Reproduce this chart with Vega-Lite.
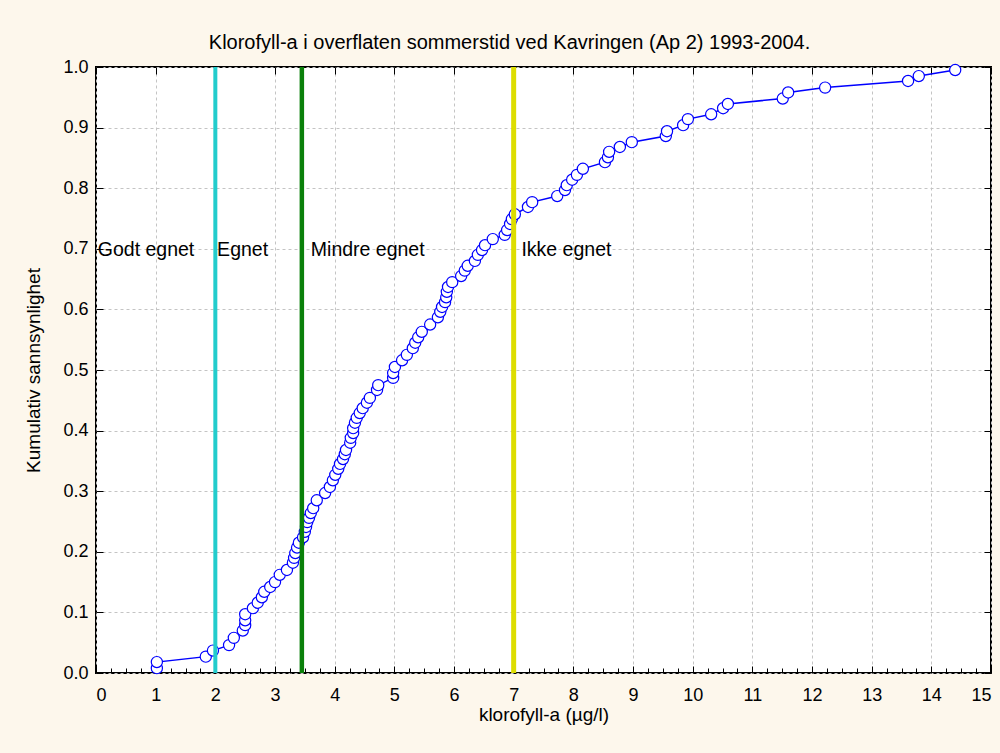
{
  "$schema": "https://vega.github.io/schema/vega-lite/v6.json",
  "autosize": "none",
  "width": 895,
  "height": 606,
  "padding": {"top": 67, "left": 96, "right": 9, "bottom": 80},
  "background": "#FDF7EC",
  "config": {
    "font": "Liberation Sans",
    "view": {"fill": "white", "stroke": "black", "strokeWidth": 2},
    "axis": {"labelFont": "Liberation Sans", "titleFont": "Liberation Sans", "labelFontSize": 18, "titleFontSize": 19, "titleFontWeight": "normal", "labelColor": "black", "titleColor": "black", "domain": false, "tickColor": "black", "gridColor": "#C4C4C4", "gridDash": [3, 3], "gridWidth": 1}
  },
  "title": {"text": "Klorofyll-a i overflaten sommerstid ved Kavringen (Ap 2) 1993-2004.", "font": "Liberation Sans", "fontSize": 20, "fontWeight": "normal", "color": "black", "offset": 5, "anchor": "middle", "dx": -34},
  "datasets": {
    "cdf": [
      {"x": 1.02, "p": 0.008}, {"x": 1.02, "p": 0.018}, {"x": 1.84, "p": 0.027}, {"x": 1.96, "p": 0.037},
      {"x": 2.23, "p": 0.046}, {"x": 2.31, "p": 0.058}, {"x": 2.46, "p": 0.070}, {"x": 2.50, "p": 0.079},
      {"x": 2.50, "p": 0.087}, {"x": 2.50, "p": 0.097}, {"x": 2.63, "p": 0.107}, {"x": 2.71, "p": 0.116},
      {"x": 2.78, "p": 0.125}, {"x": 2.82, "p": 0.134}, {"x": 2.92, "p": 0.142}, {"x": 3.00, "p": 0.150},
      {"x": 3.08, "p": 0.162}, {"x": 3.20, "p": 0.170}, {"x": 3.30, "p": 0.182}, {"x": 3.32, "p": 0.190},
      {"x": 3.34, "p": 0.198}, {"x": 3.37, "p": 0.207}, {"x": 3.40, "p": 0.215}, {"x": 3.47, "p": 0.224},
      {"x": 3.50, "p": 0.233}, {"x": 3.52, "p": 0.241}, {"x": 3.54, "p": 0.249}, {"x": 3.57, "p": 0.256},
      {"x": 3.60, "p": 0.264}, {"x": 3.64, "p": 0.272}, {"x": 3.70, "p": 0.285}, {"x": 3.84, "p": 0.297},
      {"x": 3.92, "p": 0.307}, {"x": 3.97, "p": 0.318}, {"x": 4.01, "p": 0.327}, {"x": 4.06, "p": 0.337},
      {"x": 4.09, "p": 0.345}, {"x": 4.14, "p": 0.353}, {"x": 4.17, "p": 0.361}, {"x": 4.19, "p": 0.368},
      {"x": 4.26, "p": 0.380}, {"x": 4.27, "p": 0.388}, {"x": 4.31, "p": 0.396}, {"x": 4.31, "p": 0.404},
      {"x": 4.34, "p": 0.413}, {"x": 4.37, "p": 0.421}, {"x": 4.42, "p": 0.429}, {"x": 4.47, "p": 0.437},
      {"x": 4.54, "p": 0.446}, {"x": 4.59, "p": 0.454}, {"x": 4.71, "p": 0.467}, {"x": 4.73, "p": 0.475},
      {"x": 4.98, "p": 0.487}, {"x": 4.98, "p": 0.495}, {"x": 5.01, "p": 0.505}, {"x": 5.13, "p": 0.516},
      {"x": 5.21, "p": 0.525}, {"x": 5.31, "p": 0.536}, {"x": 5.35, "p": 0.545}, {"x": 5.40, "p": 0.554},
      {"x": 5.46, "p": 0.563}, {"x": 5.60, "p": 0.575}, {"x": 5.73, "p": 0.587}, {"x": 5.77, "p": 0.596},
      {"x": 5.80, "p": 0.604}, {"x": 5.85, "p": 0.612}, {"x": 5.87, "p": 0.620}, {"x": 5.88, "p": 0.629},
      {"x": 5.90, "p": 0.637}, {"x": 5.97, "p": 0.645}, {"x": 6.12, "p": 0.655}, {"x": 6.18, "p": 0.664},
      {"x": 6.23, "p": 0.672}, {"x": 6.35, "p": 0.680}, {"x": 6.40, "p": 0.690}, {"x": 6.47, "p": 0.698},
      {"x": 6.52, "p": 0.706}, {"x": 6.65, "p": 0.716}, {"x": 6.85, "p": 0.723}, {"x": 6.89, "p": 0.731},
      {"x": 6.94, "p": 0.741}, {"x": 6.97, "p": 0.749}, {"x": 7.02, "p": 0.757}, {"x": 7.24, "p": 0.769},
      {"x": 7.31, "p": 0.777}, {"x": 7.73, "p": 0.787}, {"x": 7.86, "p": 0.797}, {"x": 7.89, "p": 0.805},
      {"x": 7.98, "p": 0.814}, {"x": 8.06, "p": 0.822}, {"x": 8.16, "p": 0.832}, {"x": 8.53, "p": 0.843},
      {"x": 8.58, "p": 0.851}, {"x": 8.60, "p": 0.860}, {"x": 8.78, "p": 0.868}, {"x": 8.98, "p": 0.876},
      {"x": 9.55, "p": 0.886}, {"x": 9.57, "p": 0.894}, {"x": 9.84, "p": 0.904}, {"x": 9.92, "p": 0.914},
      {"x": 10.31, "p": 0.922}, {"x": 10.51, "p": 0.932}, {"x": 10.59, "p": 0.939}, {"x": 11.51, "p": 0.948},
      {"x": 11.60, "p": 0.958}, {"x": 12.22, "p": 0.966}, {"x": 13.61, "p": 0.977}, {"x": 13.79, "p": 0.985},
      {"x": 14.40, "p": 0.995}
    ],
    "limits": [
      {"x": 2.0, "y0": 0, "y1": 1, "klasse": "Egnet"},
      {"x": 3.45, "y0": 0, "y1": 1, "klasse": "Mindre egnet"},
      {"x": 7.0, "y0": 0, "y1": 1, "klasse": "Ikke egnet"}
    ],
    "labels": [
      {"x": 0.03, "y": 0.698, "label": "Godt egnet"},
      {"x": 2.03, "y": 0.698, "label": "Egnet"},
      {"x": 3.6, "y": 0.698, "label": "Mindre egnet"},
      {"x": 7.13, "y": 0.698, "label": "Ikke egnet"}
    ]
  },
  "resolve": {"axis": {"x": "independent", "y": "independent"}},
  "layer": [
    {
      "data": {"name": "cdf"},
      "mark": {"type": "line", "color": "#0000FF", "strokeWidth": 1.5},
      "encoding": {
        "x": {"field": "x", "type": "quantitative", "scale": {"domain": [0, 15], "nice": false, "zero": false}, "title": "klorofyll-a (µg/l)",
          "axis": {"orient": "bottom", "values": [0,1,2,3,4,5,6,7,8,9,10,11,12,13,14,15], "format": "d", "grid": true, "tickSize": -7, "labelPadding": 20, "titlePadding": 1}},
        "y": {"field": "p", "type": "quantitative", "scale": {"domain": [0, 1], "nice": false}, "title": "Kumulativ sannsynlighet",
          "axis": {"orient": "left", "values": [0,0.1,0.2,0.3,0.4,0.5,0.6,0.7,0.8,0.9,1.0], "format": ".1f", "grid": true, "tickSize": -7, "labelPadding": 15, "titlePadding": 19}}
      }
    },
    {
      "data": {"name": "cdf"},
      "mark": {"type": "point", "shape": "circle", "filled": true, "fill": "white", "stroke": "#0000FF", "strokeWidth": 1.2, "size": 125, "opacity": 1},
      "encoding": {
        "x": {"field": "x", "type": "quantitative", "axis": null},
        "y": {"field": "p", "type": "quantitative", "axis": null}
      }
    },
    {
      "data": {"name": "limits"},
      "mark": {"type": "rule"},
      "encoding": {
        "x": {"field": "x", "type": "quantitative", "axis": {"orient": "top", "values": [0,1,2,3,4,5,6,7,8,9,10,11,12,13,14,15], "labels": false, "grid": false, "tickSize": -7, "title": null}},
        "y": {"field": "y0", "type": "quantitative", "axis": {"orient": "right", "values": [0,0.1,0.2,0.3,0.4,0.5,0.6,0.7,0.8,0.9,1.0], "labels": false, "grid": false, "tickSize": -7, "title": null}},
        "y2": {"field": "y1"},
        "color": {"field": "klasse", "type": "nominal", "scale": {"domain": ["Egnet", "Mindre egnet", "Ikke egnet"], "range": ["#22CCCC", "#0A800A", "#DDDD00"]}, "legend": null},
        "strokeWidth": {"field": "klasse", "type": "nominal", "scale": {"domain": ["Egnet", "Mindre egnet", "Ikke egnet"], "range": [4, 5, 4]}, "legend": null}
      }
    },
    {
      "data": {"name": "labels"},
      "mark": {"type": "text", "align": "left", "baseline": "middle", "fontSize": 19.5, "font": "Liberation Sans", "color": "black"},
      "encoding": {
        "x": {"field": "x", "type": "quantitative", "axis": {"orient": "bottom", "values": [0.25,0.5,0.75,1.25,1.5,1.75,2.25,2.5,2.75,3.25,3.5,3.75,4.25,4.5,4.75,5.25,5.5,5.75,6.25,6.5,6.75,7.25,7.5,7.75,8.25,8.5,8.75,9.25,9.5,9.75,10.25,10.5,10.75,11.25,11.5,11.75,12.25,12.5,12.75,13.25,13.5,13.75,14.25,14.5,14.75], "labels": false, "grid": false, "tickSize": -5, "title": null}},
        "y": {"field": "y", "type": "quantitative", "axis": null},
        "text": {"field": "label"}
      }
    }
  ]
}
